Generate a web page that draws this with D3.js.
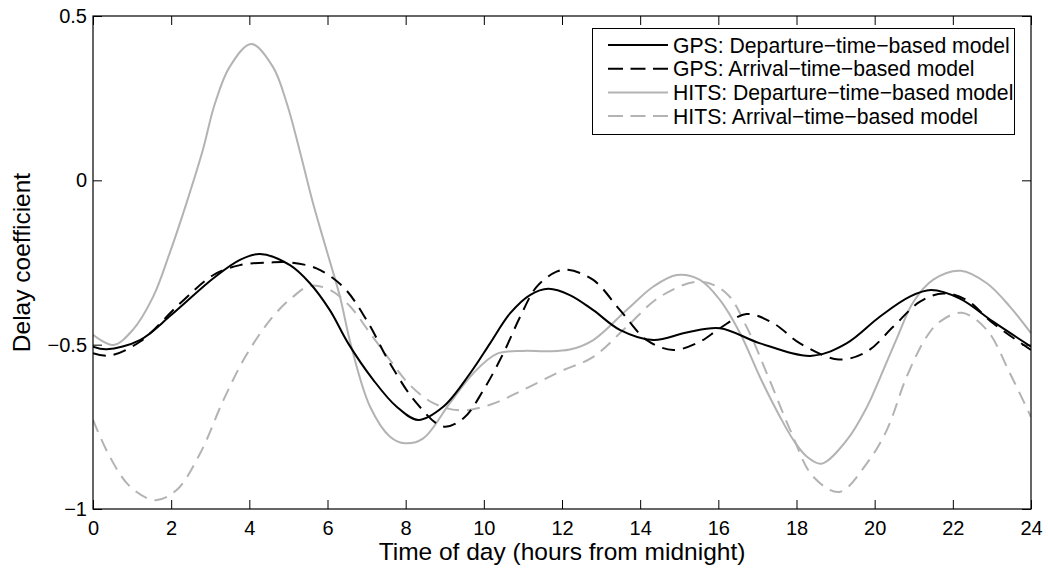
<!DOCTYPE html>
<html>
<head>
<meta charset="utf-8">
<script src="https://cdn.jsdelivr.net/npm/d3@7"></script>
<style>
  html, body { margin: 0; padding: 0; background: #fff; }
  svg { display: block; font-family: "Liberation Sans", Arial, Helvetica, sans-serif; }
</style>
</head>
<body>
<svg id="chart" width="1048" height="574"></svg>
<script>
// ---------- data ----------
const xTicks = [0, 2, 4, 6, 8, 10, 12, 14, 16, 18, 20, 22, 24];
const yTicks = [-1, -0.5, 0, 0.5];
const yTickLabels = ["\u22121", "\u22120.5", "0", "0.5"];

const seriesNames = [
  "GPS: Departure\u2212time\u2212based model",
  "GPS: Arrival\u2212time\u2212based model",
  "HITS: Departure\u2212time\u2212based model",
  "HITS: Arrival\u2212time\u2212based model"
];

const gpsDepHours = [0, 0.35, 1.2, 2.0, 3.08, 3.76, 4.27, 5.04, 5.55, 6.06, 6.53, 7.17, 7.77, 8.32, 8.96, 9.65, 10.16, 10.67, 11.18, 11.65, 12.2, 12.8, 13.48, 14.34, 15.19, 16.04, 17.07, 18.4, 19.28, 20.13, 20.9, 21.44, 22.18, 23.03, 24];
const gpsDepValues = [-0.506, -0.514, -0.486, -0.41, -0.298, -0.242, -0.224, -0.258, -0.313, -0.395, -0.496, -0.607, -0.689, -0.729, -0.689, -0.587, -0.496, -0.405, -0.349, -0.33, -0.349, -0.395, -0.455, -0.486, -0.463, -0.45, -0.496, -0.534, -0.496, -0.415, -0.354, -0.334, -0.36, -0.43, -0.506];

const gpsArrHours = [0, 0.43, 1.2, 2.23, 3.08, 3.76, 4.53, 5.04, 5.72, 6.4, 7.0, 7.6, 8.28, 8.96, 9.48, 9.99, 10.5, 10.93, 11.35, 11.86, 12.15, 12.8, 13.48, 14.17, 14.85, 15.53, 16.04, 16.72, 17.41, 18.09, 19.08, 19.8, 20.48, 21.16, 21.76, 22.35, 23.03, 24];
const gpsArrValues = [-0.526, -0.533, -0.491, -0.374, -0.288, -0.258, -0.25, -0.25, -0.268, -0.324, -0.425, -0.557, -0.678, -0.749, -0.724, -0.638, -0.526, -0.415, -0.324, -0.278, -0.272, -0.303, -0.394, -0.486, -0.516, -0.491, -0.45, -0.407, -0.435, -0.496, -0.545, -0.521, -0.445, -0.369, -0.344, -0.364, -0.435, -0.516];

const hitsDepHours = [0, 0.52, 1.02, 1.54, 1.96, 2.39, 2.81, 3.11, 3.5, 4.05, 4.6, 4.97, 5.31, 5.63, 5.97, 6.31, 6.61, 7.09, 7.6, 7.98, 8.45, 9.13, 9.73, 10.33, 11.0, 11.6, 12.2, 12.8, 13.66, 14.34, 14.94, 15.53, 16.04, 16.56, 17.07, 17.58, 17.92, 18.26, 18.64, 19.29, 19.8, 20.14, 20.57, 20.99, 21.5, 22.2, 22.87, 23.46, 24];
const hitsDepValues = [-0.47, -0.501, -0.455, -0.354, -0.222, -0.07, 0.092, 0.23, 0.346, 0.415, 0.346, 0.23, 0.08, -0.07, -0.21, -0.35, -0.506, -0.689, -0.78, -0.80, -0.785, -0.678, -0.587, -0.528, -0.519, -0.52, -0.515, -0.486, -0.394, -0.323, -0.288, -0.303, -0.364, -0.466, -0.60, -0.72, -0.79, -0.84, -0.862, -0.79, -0.69, -0.60, -0.48, -0.37, -0.302, -0.275, -0.313, -0.384, -0.465];

const hitsArrHours = [0, 0.43, 0.95, 1.59, 2.14, 2.74, 3.34, 3.93, 4.6, 5.12, 5.55, 6.06, 6.58, 7.09, 7.6, 8.11, 8.71, 9.39, 10.16, 11.0, 11.95, 12.8, 13.66, 14.51, 15.53, 16.21, 16.72, 17.24, 17.84, 18.43, 19.1, 19.8, 20.31, 20.82, 21.33, 21.67, 22.23, 22.87, 23.46, 24];
const hitsArrValues = [-0.729, -0.841, -0.932, -0.973, -0.942, -0.831, -0.668, -0.53, -0.415, -0.354, -0.321, -0.333, -0.384, -0.465, -0.547, -0.623, -0.678, -0.70, -0.683, -0.638, -0.582, -0.537, -0.445, -0.354, -0.308, -0.344, -0.445, -0.587, -0.76, -0.902, -0.948, -0.861, -0.76, -0.597, -0.476, -0.43, -0.403, -0.455, -0.587, -0.72];

// ---------- layout ----------
const svg = d3.select("#chart");
const mLeft = 93, mRight = 1031, mTop = 16, mBottom = 509;
const x = d3.scaleLinear().domain([0, 24]).range([mLeft, mRight]);
const y = d3.scaleLinear().domain([-1, 0.5]).range([mBottom, mTop]);

const gray = "#b3b3b3";
const styles = [
  { color: "#000", dash: null },
  { color: "#000", dash: "13,8" },
  { color: gray, dash: null },
  { color: gray, dash: "13,8" }
];

const series = [
  { hours: gpsDepHours, values: gpsDepValues },
  { hours: gpsArrHours, values: gpsArrValues },
  { hours: hitsDepHours, values: hitsDepValues },
  { hours: hitsArrHours, values: hitsArrValues }
];

svg.append("defs").append("clipPath").attr("id", "clip")
  .append("rect").attr("x", mLeft).attr("y", mTop)
  .attr("width", mRight - mLeft).attr("height", mBottom - mTop);

// ---------- lines ----------
const line = d3.line()
  .x(d => x(d[0]))
  .y(d => y(d[1]))
  .curve(d3.curveCatmullRom.alpha(0.5));

const linesG = svg.append("g").attr("clip-path", "url(#clip)");
for (let i = series.length - 1; i >= 0; i--) {
  const s = series[i];
  const pts = s.hours.map((h, k) => [h, s.values[k]]);
  linesG.append("path")
    .datum(pts)
    .attr("d", line)
    .attr("fill", "none")
    .attr("stroke", styles[i].color)
    .attr("stroke-width", 2)
    .attr("stroke-dasharray", styles[i].dash);
}

// ---------- axes ----------
const fontTick = 20;
const axB = svg.append("g").attr("transform", `translate(0,${mBottom})`)
  .call(d3.axisBottom(x).tickValues(xTicks).tickSizeInner(-9).tickSizeOuter(0).tickPadding(12).tickFormat(d3.format("d")));
const axT = svg.append("g").attr("transform", `translate(0,${mTop})`)
  .call(d3.axisTop(x).tickValues(xTicks).tickSizeInner(-9).tickSizeOuter(0).tickFormat(""));
const axL = svg.append("g").attr("transform", `translate(${mLeft},0)`)
  .call(d3.axisLeft(y).tickValues(yTicks).tickSizeInner(-9).tickSizeOuter(0).tickPadding(6)
    .tickFormat((d, i) => yTickLabels[i]));
const axR = svg.append("g").attr("transform", `translate(${mRight},0)`)
  .call(d3.axisRight(y).tickValues(yTicks).tickSizeInner(-9).tickSizeOuter(0).tickFormat(""));

[axB, axT, axL, axR].forEach(a => {
  a.select(".domain").remove();
  a.selectAll(".tick line").attr("stroke", "#000").attr("stroke-width", 1);
  a.selectAll(".tick text")
    .attr("fill", "#000")
    .style("font-size", fontTick + "px")
    .style("font-family", "'Liberation Sans', Arial, Helvetica, sans-serif");
});

// frame
svg.append("rect")
  .attr("x", mLeft).attr("y", mTop)
  .attr("width", mRight - mLeft).attr("height", mBottom - mTop)
  .attr("fill", "none").attr("stroke", "#000").attr("stroke-width", 1.2);

// axis labels
svg.append("text")
  .attr("x", (mLeft + mRight) / 2).attr("y", 560)
  .attr("text-anchor", "middle")
  .style("font-size", "24.5px")
  .text("Time of day (hours from midnight)");

svg.append("text")
  .attr("transform", `translate(30,${(mTop + mBottom) / 2}) rotate(-90)`)
  .attr("text-anchor", "middle")
  .style("font-size", "24.5px")
  .text("Delay coefficient");

// ---------- legend ----------
const lg = svg.append("g");
lg.append("rect")
  .attr("x", 592.5).attr("y", 28.5)
  .attr("width", 422).attr("height", 106)
  .attr("fill", "#fff").attr("stroke", "#000").attr("stroke-width", 1);

seriesNames.forEach((name, i) => {
  const cy = 45 + i * 23.7;
  lg.append("line")
    .attr("x1", 608).attr("x2", 668)
    .attr("y1", cy).attr("y2", cy)
    .attr("stroke", styles[i].color)
    .attr("stroke-width", 2)
    .attr("stroke-dasharray", styles[i].dash ? "15,7.5" : null);
  lg.append("text")
    .attr("x", 673).attr("y", cy + 7.5)
    .style("font-size", "21.2px")
    .text(name);
});
</script>
</body>
</html>
